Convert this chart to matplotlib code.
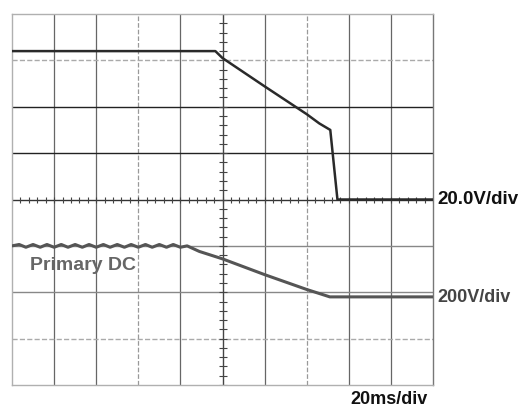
import matplotlib.pyplot as plt
import numpy as np

plt.rcParams['font.family'] = ['Liberation Sans', 'DejaVu Sans']

# Channel 1 (20.0V/div) trace, in divisions
ch1_x = [0.0, 4.83, 5.0, 6.0, 7.0, 7.3, 7.56, 7.73, 10.0]
ch1_y = [7.2, 7.2, 7.05, 6.44, 5.84, 5.64, 5.5, 4.0, 4.0]

# Channel 2 (200V/div), primary DC, with ripple before the drop
ch2_x = [0.0, 0.17, 0.33, 0.5, 0.67, 0.83, 1.0, 1.17, 1.33, 1.5, 1.67, 1.83, 2.0,
         2.17, 2.33, 2.5, 2.67, 2.83, 3.0, 3.17, 3.33, 3.5, 3.67, 3.83, 4.0, 4.16,
         4.45, 5.0, 6.0, 7.0, 7.55, 8.5, 10.0]
ch2_y = [3.0, 3.03, 2.97, 3.03, 2.97, 3.03, 2.97, 3.03, 2.97, 3.03, 2.97, 3.03, 2.97,
         3.03, 2.97, 3.03, 2.97, 3.03, 2.97, 3.03, 2.97, 3.03, 2.97, 3.03, 2.97, 3.0,
         2.88, 2.72, 2.38, 2.06, 1.9, 1.9, 1.9]

labels = ['20.0V/div', '200V/div', '20ms/div']
trace_name = 'Primary DC'

fig = plt.figure(figsize=(5.25, 4.08), dpi=100)
ax = fig.add_axes([12 / 525, 23 / 408, 421 / 525, 371 / 408])
ax.set_xlim(0, 10)
ax.set_ylim(0, 8)

# graticule
for gx in range(1, 10):
    if gx == 5:
        continue
    ls = '--' if gx in (3, 7) else '-'
    c = '#999999' if gx in (3, 7) else '#666666'
    ax.axvline(gx, color=c, lw=0.9, ls=ls, zorder=1)
for gy in range(1, 8):
    if gy == 4:
        continue
    c = '#222222' if gy in (5, 6) else '#888888'
    ls = '--' if gy in (1, 7) else '-'
    if gy in (1, 7):
        c = '#aaaaaa'
    ax.axhline(gy, color=c, lw=1.0, ls=ls, zorder=1)
ax.axhline(4, color='#333333', lw=1.0, zorder=1)
ax.axvline(5, color='#444444', lw=1.0, zorder=1)

# center-line ticks
minor = np.arange(0, 10.01, 0.2)
ax.plot(minor, [4] * len(minor), ls='none', marker='|', ms=5, color='#444444', mew=0.8)
minor_y = np.arange(0, 8.01, 0.2)
ax.plot([5] * len(minor_y), minor_y, ls='none', marker='_', ms=6, color='#444444', mew=0.8)

for s in ax.spines.values():
    s.set_color('#b0b0b0')
    s.set_linewidth(1.0)
ax.spines['right'].set_color('#777777')
ax.set_xticks([])
ax.set_yticks([])

ax.plot(ch1_x, ch1_y, color='#2a2a2a', lw=1.8, zorder=3)
ax.plot(ch2_x, ch2_y, color='#555555', lw=2.2, zorder=3)

ax.text(0.43, 2.58, trace_name, fontsize=14, fontweight='bold', color='#666666',
        va='center', ha='left')
fig.text(437 / 525, 1 - 200 / 408, labels[0], fontsize=13.5, fontweight='bold',
         color='#111111', va='center', ha='left')
fig.text(437 / 525, 1 - 297 / 408, labels[1], fontsize=13, fontweight='bold',
         color='#444444', va='center', ha='left')
fig.text(428 / 525, 1 - 400 / 408, labels[2], fontsize=13, fontweight='bold',
         color='#111111', va='center', ha='right')

fig.savefig('out.png', dpi=100)
